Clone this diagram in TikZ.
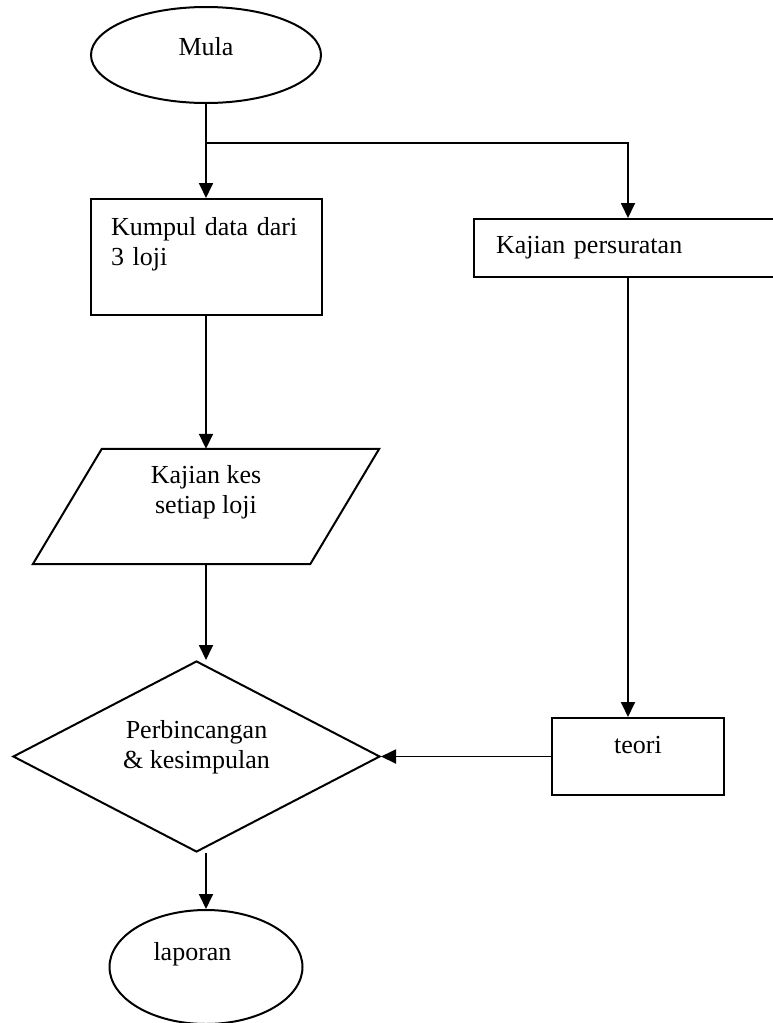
\documentclass[tikz,border=0pt]{standalone}
\usepackage{fontspec}
\setmainfont{Liberation Serif}
\usetikzlibrary{shapes.geometric,arrows.meta}

\begin{document}
\begin{tikzpicture}[
    x=1pt, y=-1pt,
    font=\fontsize{26}{30}\selectfont,
    base/.style={draw, line width=2pt, inner sep=0pt},
    terminal/.style={base, ellipse, minimum width=230pt, minimum height=96pt},
    box/.style={base, rectangle, align=left},
    io/.style={rectangle, inner sep=0pt, align=center, minimum width=277pt, minimum height=115pt},
    decision/.style={base, diamond, shape aspect=1.92, align=center, minimum width=367pt, minimum height=191pt},
    arrow/.style={-{Triangle[width=14pt,length=15pt]}, line width=1.8pt}
]
\useasboundingbox (0,0) rectangle (773,1023);

\node[terminal, text height=18pt, text depth=18pt] (mula) at (206,55) {Mula};
\node[box, minimum width=231pt, minimum height=116pt, text width=190pt, text height=20pt, text depth=64pt] (kumpul) at (206,257) {Kumpul data dari\\3 loji};
\node[box, minimum width=308pt, minimum height=58pt, text width=264pt, text height=18pt, text depth=8pt] (persuratan) at (628,248) {Kajian persuratan};
\node[io, text height=50pt, text depth=37pt] (kes) at (206,506.5) {Kajian kes\\setiap loji};
\node[decision, text height=50pt, text depth=27pt] (bincang) at (196.5,756.5) {Perbincangan\\\& kesimpulan};
\node[box, align=center, minimum width=172pt, minimum height=77pt, text height=18pt, text depth=25pt] (teori) at (638,756.5) {teori};
\node[terminal, align=left, minimum width=193pt, minimum height=114pt, text width=105pt, text height=18pt, text depth=32pt] (laporan) at (206,967) {laporan};

% parallelogram round kes
\draw[line width=2pt] ([xshift=34.5pt]kes.north west) -- ([xshift=34.5pt]kes.north east)
    -- ([xshift=-34.5pt]kes.south east) -- ([xshift=-34.5pt]kes.south west) -- cycle;

\coordinate (cabang) at (206,143);

\draw[arrow] (mula.south) -- (mula.south |- kumpul.north);
\draw[arrow] (cabang) -| (persuratan.north);
\draw[arrow] (kumpul.south) -- (kes.north);
\draw[arrow] (kes.south) -- (kes.south |- bincang.north);
\draw[arrow] (persuratan.south) -- (persuratan.south |- teori.north);
\draw[arrow] (teori.west) -- (bincang.east);
\draw[arrow] (bincang.south -| laporan.north) -- (laporan.north);
\end{tikzpicture}
\end{document}
